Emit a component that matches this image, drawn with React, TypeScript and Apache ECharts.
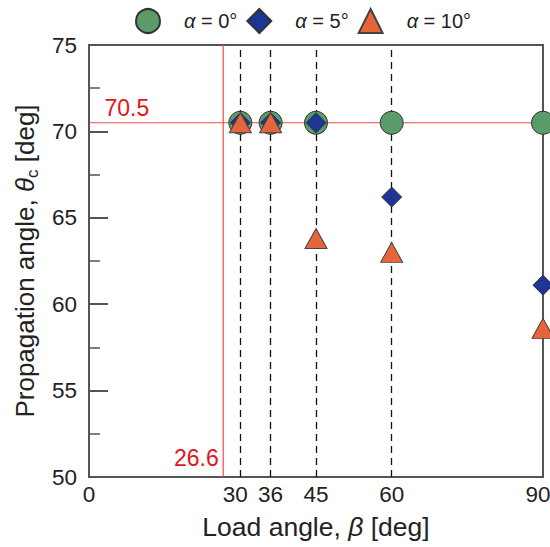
import React, { useEffect, useRef } from "react";
import * as echarts from "echarts";

const loadAngles = [30, 36, 45, 60, 90];
const alpha0 = [70.5, 70.5, 70.5, 70.5, 70.5];
const alpha5 = [70.5, 70.5, 70.5, 66.2, 61.1];
const alpha10 = [70.5, 70.5, 63.8, 63.0, 58.6];
const xTickLabels = [0, 30, 36, 45, 60, 90];
const shiftedTickLabels = [30, 90];
const dashedAngles = [30, 36, 45, 60];
const xRange = [0, 90];
const yRange = [50, 75];
const refBeta = 26.6;
const refTheta = 70.5;
const seriesNames = ["α0", "α5", "α10"];
const legendLabels = ["{i|α} = 0°", "{i|α} = 5°", "{i|α} = 10°"];

const FONT = "Liberation Sans, Arial, sans-serif";
const RED = "#e3141b";
const RED_LINE = "#f04848";

export default function App() {
  const ref = useRef<HTMLDivElement>(null);
  useEffect(() => {
    if (!ref.current) return;
    const chart = echarts.init(ref.current, undefined, { renderer: "svg" });
    const pts = (ys: number[]) => loadAngles.map((x, i) => [x, ys[i]]);
    const legendMap: Record<string, string> = {};
    seriesNames.forEach((n, i) => (legendMap[n] = legendLabels[i]));
    chart.setOption({
      animation: false,
      textStyle: { fontFamily: FONT },
      grid: {
        left: 89,
        right: 7,
        top: 45,
        bottom: 70,
        outerBoundsMode: "none",
        containLabel: false,
        show: true,
        borderColor: "#555",
        borderWidth: 2,
        backgroundColor: "transparent",
        z: 0,
      },
      legend: {
        left: 130,
        top: 3,
        itemWidth: 24,
        itemHeight: 24,
        itemGap: 9,
        data: seriesNames,
        formatter: (n: string) => legendMap[n],
        textStyle: {
          fontSize: 20,
          color: "#222",
          fontFamily: FONT,
          padding: [0, 0, 0, 19],
          rich: { i: { fontStyle: "italic", fontSize: 20, color: "#222", fontFamily: FONT } },
        },
      },
      xAxis: {
        type: "value",
        min: xRange[0],
        max: xRange[1],
        name: "Load angle, {i|β} [deg]",
        nameLocation: "middle",
        nameGap: 36,
        nameTextStyle: {
          fontSize: 26.5,
          color: "#222",
          fontFamily: FONT,
          rich: { i: { fontStyle: "italic", fontSize: 26.5, color: "#222", fontFamily: FONT } },
        },
        axisLine: { show: false },
        axisTick: { show: false },
        splitLine: { show: false },
        axisLabel: {
          customValues: xTickLabels,
          fontSize: 22.5,
          color: "#222",
          margin: 6,
          fontFamily: FONT,
          showMinLabel: true,
          showMaxLabel: true,
          hideOverlap: false,
          formatter: (v: number) => (shiftedTickLabels.includes(v) ? `{sh|${v}}` : `${v}`),
          rich: {
            sh: { fontSize: 22.5, color: "#222", fontFamily: FONT, padding: [0, 10, 0, 0] },
          },
        },
      },
      yAxis: {
        type: "value",
        min: yRange[0],
        max: yRange[1],
        interval: 5,
        name: "Propagation angle, {i|θ}{s|c} [deg]",
        nameLocation: "middle",
        nameGap: 43,
        nameTextStyle: {
          fontSize: 26,
          color: "#222",
          fontFamily: FONT,
          lineHeight: 32,
          rich: {
            i: { fontStyle: "italic", fontSize: 26, color: "#222", fontFamily: FONT, lineHeight: 32 },
            s: { fontSize: 17, color: "#222", fontFamily: FONT, verticalAlign: "bottom", lineHeight: 17 },
          },
        },
        axisLine: { show: false },
        axisTick: { show: true, inside: true, length: 19, lineStyle: { color: "#555", width: 2 } },
        minorTick: { show: true, splitNumber: 2, length: 11, lineStyle: { color: "#555", width: 1.5 } },
        splitLine: { show: false },
        axisLabel: { fontSize: 22.5, color: "#222", margin: 12, fontFamily: FONT },
      },
      series: [
        {
          name: "guides",
          type: "scatter",
          data: [],
          z: 1,
          silent: true,
          markLine: {
            z: 1,
            silent: true,
            symbol: "none",
            animation: false,
            label: { show: false },
            lineStyle: { color: "#111", type: [7, 5], width: 1.3, opacity: 1 },
            data: dashedAngles.map((v) => ({ xAxis: v })),
          },
        },
        {
          name: "refV",
          type: "line",
          silent: true,
          z: 1,
          symbol: "none",
          lineStyle: { color: RED_LINE, width: 1.2 },
          data: yRange.map((y) => [refBeta, y]),
        },
        {
          name: "refH",
          type: "line",
          silent: true,
          z: 1,
          symbol: "none",
          lineStyle: { color: RED_LINE, width: 1.2 },
          data: xRange.map((x) => [x, refTheta]),
        },
        {
          name: "refLabels",
          type: "scatter",
          silent: true,
          z: 2,
          symbolSize: 1,
          itemStyle: { color: "rgba(0,0,0,0)", opacity: 1 },
          data: [
            {
              value: [refBeta, yRange[0]],
              label: { show: true, position: "left", distance: 4, offset: [0, -19], formatter: String(refBeta) },
            },
            {
              value: [xRange[0], refTheta],
              label: { show: true, position: "right", distance: 15, offset: [0, -15], formatter: String(refTheta) },
            },
          ],
          label: { show: true, color: RED, fontSize: 23, fontFamily: FONT },
        },
        {
          name: seriesNames[0],
          type: "scatter",
          z: 3,
          clip: false,
          symbol: "circle",
          symbolSize: 23,
          itemStyle: { color: "#5a9b69", borderColor: "#333", borderWidth: 1, opacity: 1 },
          data: pts(alpha0),
        },
        {
          name: seriesNames[1],
          type: "scatter",
          z: 4,
          clip: false,
          symbol: "diamond",
          symbolSize: 20,
          itemStyle: { color: "#1d3594", borderColor: "#333", borderWidth: 1, opacity: 1 },
          data: pts(alpha5),
        },
        {
          name: seriesNames[2],
          type: "scatter",
          z: 5,
          clip: false,
          symbol: "triangle",
          symbolSize: [22, 20],
          itemStyle: { color: "#e8643a", borderColor: "#444", borderWidth: 1, opacity: 1 },
          data: pts(alpha10),
        },
      ],
    });
    return () => chart.dispose();
  }, []);
  return <div ref={ref} style={{ width: 550, height: 547, position: "absolute", left: 0, top: 0 }} />;
}
